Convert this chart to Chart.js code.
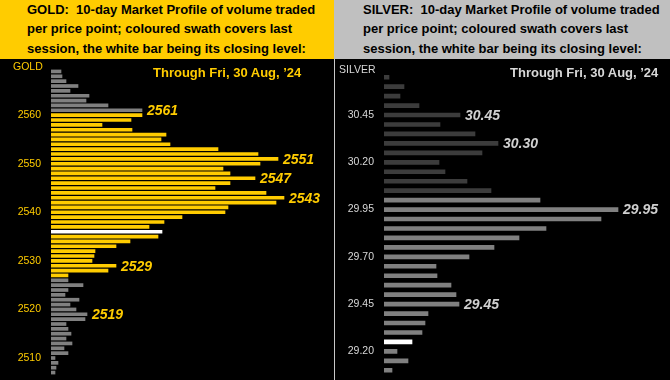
<!DOCTYPE html>
<html>
<head>
<meta charset="utf-8">
<script src="https://cdn.jsdelivr.net/npm/chart.js@4"></script>
<style>
    body { margin: 0; background: #000; width: 670px; height: 380px; overflow: hidden; position: relative; font-family: "Liberation Sans", Arial, sans-serif; }
    .hdr { position: absolute; top: 0; height: 59px; }
    .hdr-text { position: absolute; top: 0; font-weight: bold; font-size: 13px; line-height: 19.3px; color: #000; white-space: nowrap; }
    .lbl { position: absolute; white-space: nowrap; line-height: 1; }
    .box { position: absolute; top: 59px; height: 321px; }
</style>
</head>
<body>
<div class="hdr" style="left:0;width:334px;background:#FFCC00;"></div>
<div class="hdr" style="left:334px;width:336px;background:#C0C0C0;"></div>
<div class="hdr-text" style="left:27px;">GOLD:&nbsp; 10-day Market Profile of volume traded<br>per price point; coloured swath covers last<br>session, the white bar being its closing level:</div>
<div class="hdr-text" style="left:363px;">SILVER:&nbsp; 10-day Market Profile of volume traded<br>per price point; coloured swath covers last<br>session, the white bar being its closing level:</div>

<div class="box" style="left:0;width:334px;"><canvas id="gold-chart"></canvas></div>
<div style="position:absolute;left:334px;top:59px;width:1px;height:321px;background:#C8C8C8;"></div>
<div class="box" style="left:335px;width:335px;"><canvas id="silver-chart"></canvas></div>

<div class="lbl" style="left:13px;top:61px;font-size:10.5px;color:#FFCC00;">GOLD</div>
<div class="lbl" style="left:339px;top:64px;font-size:10.5px;color:#D8D8D8;">SILVER</div>
<div class="lbl" style="left:153px;top:66px;font-size:13px;font-weight:bold;color:#FFCC00;">Through Fri, 30 Aug, ’24</div>
<div class="lbl" style="left:510px;top:66px;font-size:13px;font-weight:bold;color:#D8D8D8;">Through Fri, 30 Aug, ’24</div>

<script>
// Gold: price points top to bottom and volume traded at each
const goldPrices = [2569, 2568, 2567, 2566, 2565, 2564, 2563, 2562, 2561, 2560,
    2559, 2558, 2557, 2556, 2555, 2554, 2553, 2552, 2551, 2550,
    2549, 2548, 2547, 2546, 2545, 2544, 2543, 2542, 2541, 2540,
    2539, 2538, 2537, 2536, 2535, 2534, 2533, 2532, 2531, 2530,
    2529, 2528, 2527, 2526, 2525, 2524, 2523, 2522, 2521, 2520,
    2519, 2518, 2517, 2516, 2515, 2514, 2513, 2512, 2511, 2510,
    2509, 2508, 2507];
const goldVolume = [10, 11, 15, 27, 19, 38, 35, 57, 91, 91,
    80, 51, 81, 115, 110, 119, 167, 207, 227, 209,
    172, 179, 204, 179, 164, 215, 233, 225, 177, 174,
    131, 113, 98, 111, 107, 79, 65, 44, 43, 41,
    65, 57, 17, 17, 32, 17, 14, 28, 19, 25,
    36, 34, 15, 17, 20, 15, 21, 13, 17, 4,
    7, 5, 4];
const goldTicks = [2560, 2550, 2540, 2530, 2520, 2510];
const goldCallouts = [2561, 2551, 2547, 2543, 2529, 2519];
const goldSession = [2527, 2560];
const goldClose = 2536;

// Silver
const silverPrices = ['30.65', '30.60', '30.55', '30.50', '30.45', '30.40', '30.35', '30.30', '30.25', '30.20',
    '30.15', '30.10', '30.05', '30.00', '29.95', '29.90', '29.85', '29.80', '29.75', '29.70',
    '29.65', '29.60', '29.55', '29.50', '29.45', '29.40', '29.35', '29.30', '29.25', '29.20',
    '29.15', '29.10'];
const silverVolume = [5, 20, 16, 35, 76, 56, 91, 114, 98, 55,
    61, 83, 107, 156, 234, 217, 162, 135, 110, 85,
    52, 53, 67, 72, 75, 44, 41, 38, 28, 13,
    24, 8];
const silverTicks = ['30.45', '30.20', '29.95', '29.70', '29.45', '29.20'];
const silverCallouts = ['30.45', '30.30', '29.95', '29.45'];
const silverSession = [29.10, 30.00];
const silverClose = '29.25';

const FONT = '"Liberation Sans", Arial, sans-serif';

function barColors(prices, session, close, oldColor, swathColor) {
    return prices.map(p => {
        if (String(p) === String(close)) return '#FFFFFF';
        const v = Number(p);
        return (v >= session[0] - 1e-9 && v <= session[1] + 1e-9) ? swathColor : oldColor;
    });
}

// draws the bold italic price next to the end of chosen bars
const calloutPlugin = {
    id: 'callouts',
    afterDatasetsDraw(chart, args, opts) {
        const ctx = chart.ctx;
        const meta = chart.getDatasetMeta(0);
        ctx.save();
        ctx.font = 'italic bold 14px ' + FONT;
        ctx.fillStyle = opts.color;
        ctx.textAlign = 'left';
        ctx.textBaseline = 'middle';
        opts.items.forEach(p => {
            const i = chart.data.labels.findIndex(l => String(l) === String(p));
            if (i < 0) return;
            const bar = meta.data[i];
            ctx.fillText(String(p), bar.x + 5, bar.y + 1);
        });
        ctx.restore();
    }
};

function makeProfile(canvasId, cfg) {
    const ctx = document.getElementById(canvasId).getContext('2d');
    return new Chart(ctx, {
        type: 'bar',
        data: {
            labels: cfg.labels,
            datasets: [{
                data: cfg.values,
                backgroundColor: cfg.colors,
                borderWidth: 0,
                barThickness: cfg.thickness
            }]
        },
        options: {
            indexAxis: 'y',
            responsive: true,
            maintainAspectRatio: false,
            devicePixelRatio: 1,
            animation: false,
            layout: {
                padding: { left: 0, right: cfg.padRight, top: cfg.padTop, bottom: cfg.padBottom }
            },
            scales: {
                x: {
                    display: false,
                    min: 0,
                    max: cfg.xMax
                },
                y: {
                    grid: { display: false, drawTicks: false },
                    border: { display: false },
                    afterFit: scale => {
                        scale.width = cfg.axisWidth;
                        // tick labels must not push the plot area in
                        scale.paddingTop = 0;
                        scale.paddingBottom = 0;
                    },
                    ticks: {
                        autoSkip: false,
                        padding: 10,
                        color: cfg.tickColor,
                        font: { family: FONT, size: 10.5 },
                        callback: function (val) {
                            const lbl = String(this.getLabelForValue(val));
                            return cfg.ticks.map(String).includes(lbl) ? lbl : '';
                        }
                    }
                }
            },
            plugins: {
                legend: { display: false },
                tooltip: { enabled: false },
                callouts: { items: cfg.callouts, color: cfg.calloutColor }
            }
        },
        plugins: [calloutPlugin]
    });
}

makeProfile('gold-chart', {
    labels: goldPrices,
    values: goldVolume,
    colors: barColors(goldPrices, goldSession, goldClose, '#808080', '#FFCC00'),
    ticks: goldTicks,
    callouts: goldCallouts,
    tickColor: '#FFCC00',
    calloutColor: '#FFCC00',
    thickness: 3,
    axisWidth: 51,
    xMax: 282,
    padRight: 1,
    padTop: 10,
    padBottom: 5
});

makeProfile('silver-chart', {
    labels: silverPrices,
    values: silverVolume,
    colors: barColors(silverPrices, silverSession, silverClose, '#3C3C3C', '#808080'),
    ticks: silverTicks,
    callouts: silverCallouts,
    tickColor: '#D8D8D8',
    calloutColor: '#D0D0D0',
    thickness: 4,
    axisWidth: 49,
    xMax: 286,
    padRight: 0,
    padTop: 13.5,
    padBottom: 5
});
</script>
</body>
</html>
